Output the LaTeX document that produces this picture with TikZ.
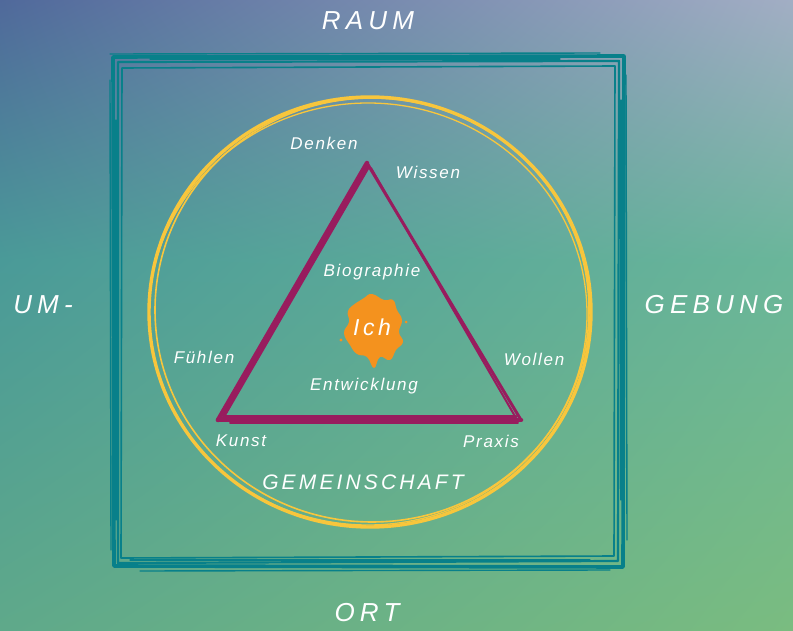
\documentclass[tikz,border=0pt]{standalone}
\usepackage{fontspec}
\usetikzlibrary{shadings}
\newfontfamily\hand[LetterSpace=10]{Liberation Sans}
\newfontfamily\handwide[LetterSpace=20]{Liberation Sans}
\newfontfamily\handmid[LetterSpace=15]{Liberation Sans}
\definecolor{frameC}{HTML}{08808A}
\definecolor{ringC}{HTML}{F8C63C}
\definecolor{triC}{HTML}{981C5E}
\definecolor{splatC}{HTML}{F4921E}
\definecolor{bgA}{HTML}{50699B}
\definecolor{bgB}{HTML}{A2AEC4}
\definecolor{bgC}{HTML}{4A9A98}
\definecolor{bgD}{HTML}{6AB69A}
\definecolor{bgE}{HTML}{5FA98A}
\definecolor{bgF}{HTML}{7ABC80}
\tikzset{
  frame/.style={draw=frameC, line cap=round, line join=round},
  ring/.style={draw=ringC, line cap=round},
  tri/.style={draw=triC, line cap=round, line join=round},
  lbl/.style={text=white, font=\hand\itshape\fontsize{17}{19}\selectfont, inner sep=0pt},
  mid/.style={text=white, font=\handmid\itshape\fontsize{21}{24}\selectfont, inner sep=0pt},
  big/.style={text=white, font=\handwide\itshape\fontsize{26}{29}\selectfont, inner sep=0pt},
}
\begin{document}
\begin{tikzpicture}[x=1pt,y=-1pt]
\useasboundingbox (0,0) rectangle (793,631);
% background
\shade[upper left=bgA, upper right=bgB, lower left=bgC, lower right=bgD] (0,0) rectangle (793,260);
\shade[upper left=bgC, upper right=bgD, lower left=bgE, lower right=bgF] (0,259.5) rectangle (793,631);
% square frame
\draw[frame, line width=3.6] (113,57) -- (624,56) -- (623,567) -- (114,566) -- cycle;
\draw[frame, line width=2.2] (118,62) -- (619,61) -- (618,561) -- (118,563) -- cycle;
\draw[frame, line width=1.6] (122,68) -- (615,66) -- (614,556) -- (121,558) -- cycle;
\draw[frame, line width=1.4] (110,54) -- (600,53);
\draw[frame, line width=1.2] (150,59) -- (560,59);
\draw[frame, line width=1.4] (626,75) -- (627,540);
\draw[frame, line width=1.2] (621,100) -- (621,500);
\draw[frame, line width=1.4] (140,571) -- (610,570);
\draw[frame, line width=1.2] (130,560) -- (590,560);
\draw[frame, line width=1.4] (110,80) -- (111,550);
\draw[frame, line width=1.2] (116,120) -- (116,520);
% circle
\draw[ring, line width=3.4] (370,312) ellipse [x radius=221, y radius=215];
\draw[ring, line width=1.6] (372,310) ellipse [x radius=217, y radius=212];
\draw[ring, line width=1.3] (368,314) ellipse [x radius=219, y radius=211];
% triangle
\coordinate (A) at (367,163);
\coordinate (B) at (218,420);
\coordinate (C) at (521,420);
\draw[tri, line width=4.5] (B) -- (A);
\draw[tri, line width=3] (224,416) -- (369,166);
\draw[tri, line width=2] (221,421) -- (363,171);
\draw[tri, line width=4.5] (B) -- (C);
\draw[tri, line width=3] (224,416) -- (516,416);
\draw[tri, line width=2] (230,423) -- (518,423);
\draw[tri, line width=3] (A) -- (C);
\draw[tri, line width=2] (371,168) -- (516,418);
% splat
\fill[splatC] plot[smooth cycle, tension=0.8] coordinates {
 (372,294) (384,300) (393,300) (397,310) (402,320) (399,332) (403,342) (396,350)
 (390,360) (380,357) (374,368) (367,357) (357,354) (350,345) (344,333) (349,322)
 (348,311) (356,303) (364,298)};
\fill[splatC] (406,322) circle (1.5);
\fill[splatC] (341,340) circle (1.6);
% labels
\node[big] (raum) at (368,21) {RAUM};
\node[big] (um) at (43,305) {UM-};
\node[big] (gebung) at (714,305) {GEBUNG};
\node[big] (ort) at (367,613) {ORT};
\node[lbl] (denken) at (324,143) {Denken};
\node[lbl] (wissen) at (428,172) {Wissen};
\node[lbl] (bio) at (372,272) {Biographie};
\node[mid, font=\handmid\itshape\fontsize{23}{26}\selectfont] (ich) at (372,327) {Ich};
\node[lbl] (fuehlen) at (204,357) {Fühlen};
\node[lbl] (wollen) at (534,359) {Wollen};
\node[lbl] (entw) at (364,386) {Entwicklung};
\node[lbl] (kunst) at (241,441) {Kunst};
\node[lbl] (praxis) at (491,441) {Praxis};
\node[mid] (gem) at (363,482) {GEMEINSCHAFT};
\end{tikzpicture}
\end{document}
